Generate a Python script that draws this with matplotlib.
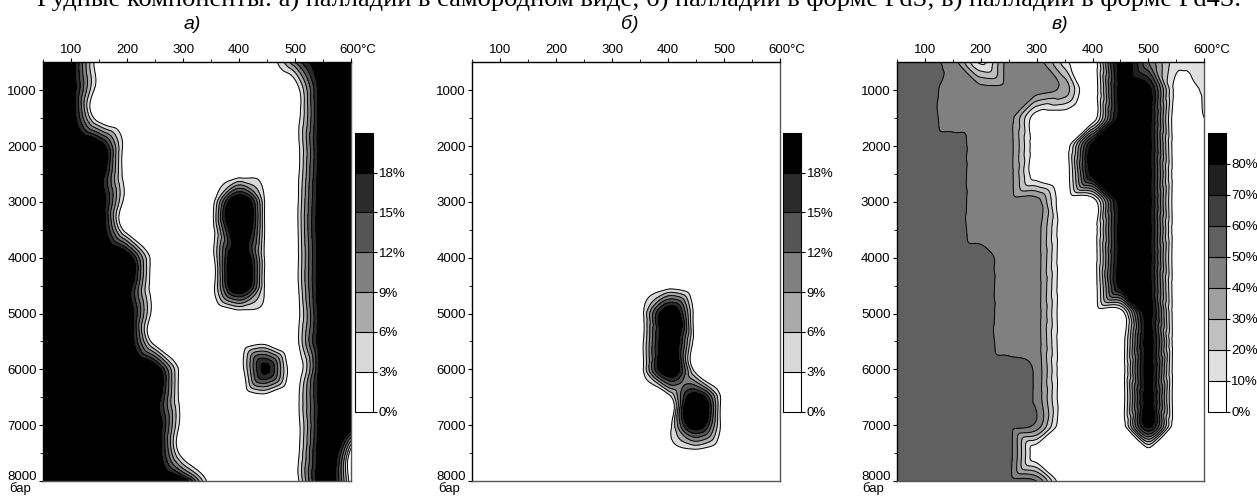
import numpy as np
import matplotlib
matplotlib.use('Agg')
import matplotlib.pyplot as plt
import matplotlib.tri as mtri
from matplotlib.colors import ListedColormap, BoundaryNorm
from matplotlib.transforms import ScaledTranslation

plt.rcParams['font.family'] = ['Liberation Sans', 'DejaVu Sans']

# ---------------- data (values at grid nodes) ----------------
temps = [50, 100, 150, 200, 250, 300, 350, 400, 450, 500, 550, 600]          # °C
pressures = [500, 1000, 1500, 2000, 2500, 3000, 3500, 4000,
             4500, 5000, 5500, 6000, 6500, 7000, 7500, 8000]                  # bar

# а) палладий в самородном виде, %
pd_native = [
    [22, 21, 0, 0, 0, 0, 0, 0, 0, 12, 22, 22],
    [22, 21, 0, 0, 0, 0, 0, 0, 0, 0, 22, 22],
    [22, 21, 0, 0, 0, 0, 0, 0, 0, 0, 22, 22],
    [22, 22, 22, 0, 0, 0, 0, 0, 0, 0, 22, 22],
    [22, 22, 22, 0, 0, 0, 0, 0, 0, 0, 22, 22],
    [22, 22, 22, 0, 0, 0, 0, 24, 0, 0, 22, 22],
    [22, 22, 22, 0, 0, 0, 0, 24, 0, 0, 22, 22],
    [22, 22, 22, 22, 0, 0, 0, 24, 0, 0, 22, 22],
    [22, 22, 22, 22, 0, 0, 0, 24, 0, 0, 22, 22],
    [22, 22, 22, 22, 0, 0, 0, 0, 0, 0, 22, 22],
    [22, 22, 22, 22, 0, 0, 0, 0, 0, 0, 22, 22],
    [22, 22, 22, 22, 22, 0, 0, 0, 19, 0, 22, 22],
    [22, 22, 22, 22, 22, 0, 0, 0, 0, 0, 22, 22],
    [22, 22, 22, 22, 22, 0, 0, 0, 0, 0, 22, 22],
    [22, 22, 22, 22, 22, 0, 0, 0, 0, 0, 22, 0],
    [22, 22, 22, 22, 22, 22, 0, 0, 0, 0, 22, 0],
]

# б) палладий в форме PdS, %
pd_pds = [
    [0] * 12, [0] * 12, [0] * 12, [0] * 12, [0] * 12, [0] * 12, [0] * 12, [0] * 12,
    [0] * 12,
    [0, 0, 0, 0, 0, 0, 0, 23, 0, 0, 0, 0],
    [0, 0, 0, 0, 0, 0, 0, 23, 0, 0, 0, 0],
    [0, 0, 0, 0, 0, 0, 0, 23, 0, 0, 0, 0],
    [0, 0, 0, 0, 0, 0, 0, 0, 22, 0, 0, 0],
    [0, 0, 0, 0, 0, 0, 0, 0, 22, 0, 0, 0],
    [0] * 12, [0] * 12,
]

# в) палладий в форме Pd4S, %
pd_pd4s = [
    [55, 55, 45, 8, 45, 45, 15, 0, 85, 50, 14, 15],
    [55, 55, 45, 45, 45, 45, 36, 0, 85, 85, 5, 12],
    [55, 55, 45, 45, 45, 2, 0, 0, 85, 85, 0, 10],
    [55, 55, 55, 45, 45, 2, 0, 85, 85, 85, 0, 0],
    [55, 55, 55, 45, 45, 2, 0, 85, 85, 85, 0, 0],
    [55, 55, 55, 45, 45, 45, 0, 0, 85, 85, 0, 0],
    [55, 55, 55, 45, 45, 45, 0, 0, 85, 85, 0, 0],
    [55, 55, 55, 55, 45, 45, 0, 0, 85, 85, 0, 0],
    [55, 55, 55, 55, 45, 45, 0, 0, 85, 85, 0, 0],
    [55, 55, 55, 55, 45, 45, 0, 0, 0, 85, 0, 0],
    [55, 55, 55, 55, 45, 45, 0, 0, 0, 85, 0, 0],
    [55, 55, 55, 55, 55, 47, 0, 0, 0, 85, 0, 0],
    [55, 55, 55, 55, 55, 47, 0, 0, 0, 85, 0, 0],
    [55, 55, 55, 55, 55, 47, 0, 0, 0, 85, 0, 0],
    [55, 55, 55, 55, 55, 0, 0, 0, 0, 0, 0, 0],
    [55, 55, 55, 55, 55, 50, 0, 0, 0, 0, 0, 0],
]

levels_ab = [0, 3, 6, 9, 12, 15, 18]
levels_c = [0, 10, 20, 30, 40, 50, 60, 70, 80]
colors_ab = ['#ffffff', '#d9d9d9', '#aaaaaa', '#808080', '#555555', '#2b2b2b', '#000000']
colors_c = ['#ffffff', '#e0e0e0', '#c0c0c0', '#a0a0a0', '#808080',
            '#606060', '#404040', '#202020', '#000000']

x_ticks = [100, 200, 300, 400, 500, 600]
x_tick_labels = ['100', '200', '300', '400', '500', '600°C']
y_ticks = [1000, 2000, 3000, 4000, 5000, 6000, 7000, 8000]

title_text = ('Рудные компоненты: а) палладий в самородном виде; '
              'б) палладий в форме PdS; в) палладий в форме Pd4S.')
panel_labels = ['а)', 'б)', 'в)']

# ---------------- figure ----------------
W, H = 1257, 496
fig = plt.figure(figsize=(W / 100, H / 100), dpi=100)


def fx(px):
    return px / W


def fy(py):
    return 1 - py / H


ax_left_px = [43.3, 472.3, 896.7]
ax_w_px = 307.7
ax_top_px, ax_bot_px = 62.3, 481.0
cbar_left_px = [355.0, 783.3, 1207.7]
cbar_w_px = 18.0
cbar_top_px, cbar_bot_px = 132.7, 411.7
label_x_px = [192, 630, 1060]

datasets = [pd_native, pd_pds, pd_pd4s]
level_sets = [levels_ab, levels_ab, levels_c]
color_sets = [colors_ab, colors_ab, colors_c]
smoothing = ['min_E', 'min_E', 'geom']

# triangulation in node-index space, refined & smoothed by matplotlib
ti, pj = np.meshgrid(np.arange(len(temps)), np.arange(len(pressures)))
tri_idx = mtri.Triangulation(ti.ravel().astype(float), pj.ravel().astype(float))
refiner = mtri.UniformTriRefiner(tri_idx)
t_arr = np.array(temps, float)
p_arr = np.array(pressures, float)

for k in range(3):
    z = np.array(datasets[k], float).ravel()
    interp = mtri.CubicTriInterpolator(tri_idx, z, kind=smoothing[k])
    rtri, rz = refiner.refine_field(z, triinterpolator=interp, subdiv=4)
    rx = np.interp(rtri.x, np.arange(len(temps)), t_arr)
    ry = np.interp(rtri.y, np.arange(len(pressures)), p_arr)
    tri_data = mtri.Triangulation(rx, ry, rtri.triangles)

    ax = fig.add_axes([fx(ax_left_px[k]), fy(ax_bot_px), fx(ax_w_px),
                       (ax_bot_px - ax_top_px) / H])
    lv = level_sets[k]
    fill_levels = lv + [10000]
    cmap = ListedColormap(color_sets[k])
    norm = BoundaryNorm(fill_levels, cmap.N)
    cf = ax.tricontourf(tri_data, rz, levels=fill_levels, cmap=cmap, norm=norm)
    ax.tricontour(tri_data, rz, levels=lv[1:], colors='black', linewidths=0.7)

    ax.set_xlim(50, 600)
    ax.set_ylim(8000, 500)
    ax.xaxis.tick_top()
    ax.set_xticks(x_ticks)
    ax.set_xticklabels(x_tick_labels)
    ax.set_xticks([150, 250, 350, 450, 550, 50], minor=True)
    ax.set_yticks(y_ticks)
    ax.set_yticks([1500, 2500, 3500, 4500, 5500, 6500, 7500], minor=True)
    ax.tick_params(which='major', direction='out', length=3, width=0.8,
                   labelsize=9.5, pad=1.5, colors='black')
    ax.tick_params(which='minor', direction='out', length=2, width=0.6)
    ax.tick_params(axis='x', which='both', top=True, bottom=False)
    ax.tick_params(axis='y', which='both', left=True, right=False)
    # shift "600°C" so the number is centred on its tick
    lab = ax.get_xticklabels()[-1]
    lab.set_horizontalalignment('left')
    lab.set_transform(lab.get_transform() + ScaledTranslation(-11.3 / 100, 0, fig.dpi_scale_trans))
    # lift the "8000" label above the unit label
    ylab = ax.get_yticklabels()[-1]
    ylab.set_transform(ylab.get_transform() + ScaledTranslation(0, 6 / 100, fig.dpi_scale_trans))

    for s in ['top', 'left']:
        ax.spines[s].set_color('black')
        ax.spines[s].set_linewidth(1.0)
    for s in ['right', 'bottom']:
        ax.spines[s].set_color('#555555')
        ax.spines[s].set_linewidth(1.0)

    ax.annotate('бар', xy=(0, 0), xycoords='axes fraction',
                xytext=(-34 * 0.72, -7.5 * 0.72), textcoords='offset points',
                ha='left', va='center', fontsize=9.5)

    cax = fig.add_axes([fx(cbar_left_px[k]), fy(cbar_bot_px), fx(cbar_w_px),
                        (cbar_bot_px - cbar_top_px) / H])
    cb = fig.colorbar(cf, cax=cax, ticks=lv, drawedges=True)
    cb.ax.set_yticklabels([f'{v}%' for v in lv])
    cb.ax.tick_params(direction='out', length=3, width=0.8, labelsize=9.5, pad=1)
    cb.ax.minorticks_off()
    cb.outline.set_linewidth(0.8)
    cb.outline.set_edgecolor('black')
    cb.dividers.set_color('black')
    cb.dividers.set_linewidth(0.8)

    fig.text(fx(label_x_px[k]), fy(29), panel_labels[k], ha='center', va='baseline',
             fontsize=14, style='italic')

fig.text(fx(639), fy(6), title_text, ha='center', va='baseline', fontsize=19,
         family=['Liberation Serif', 'DejaVu Serif'])

fig.savefig('out.png', dpi=100)
